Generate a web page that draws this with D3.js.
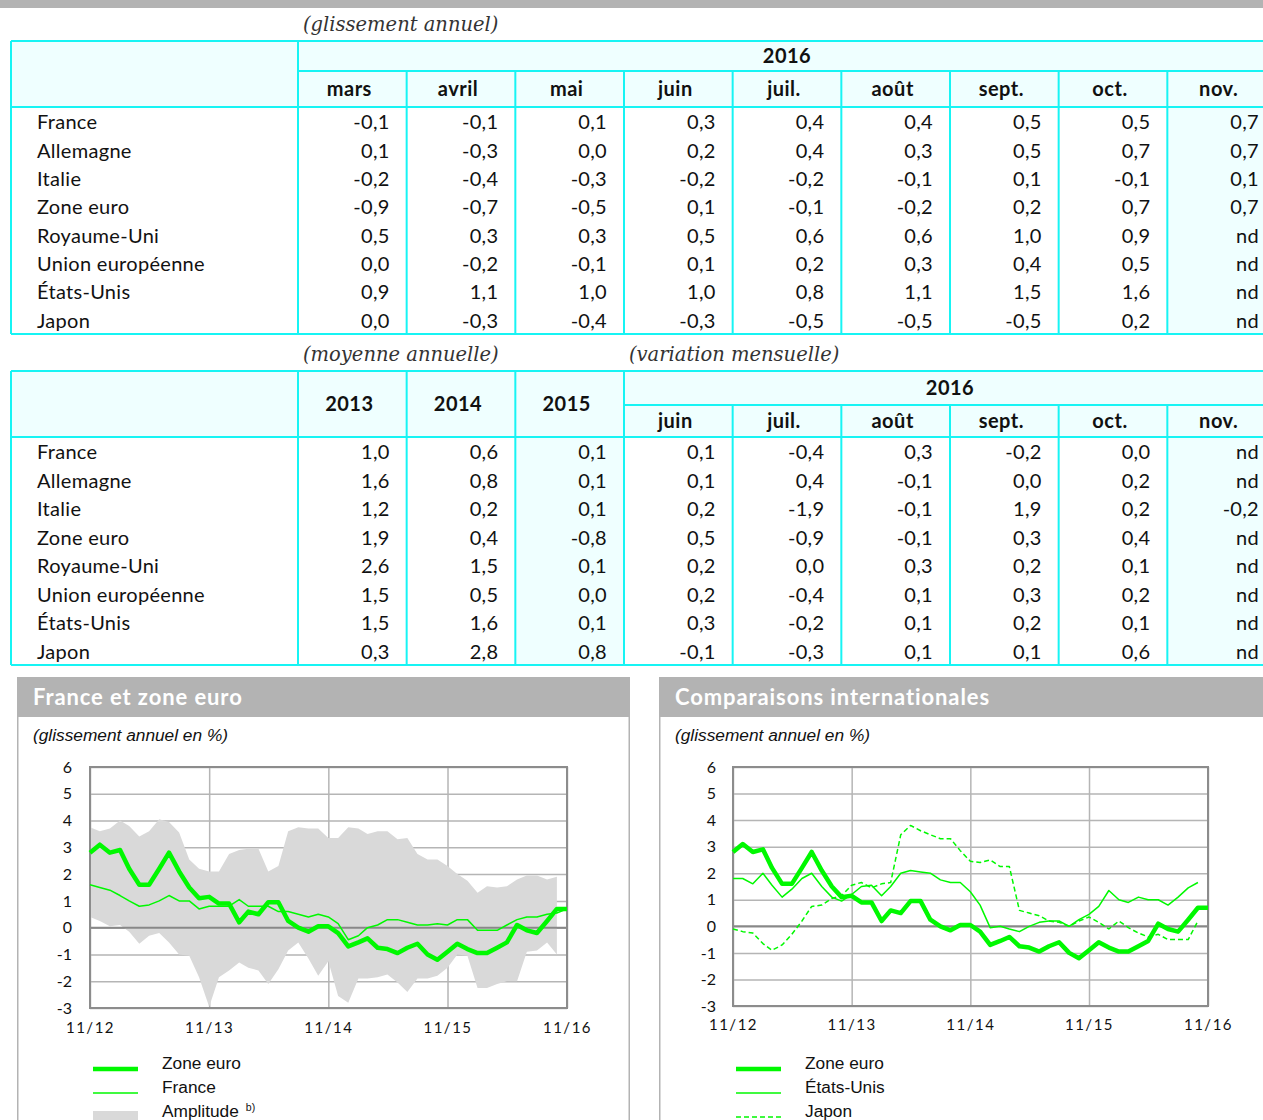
<!DOCTYPE html>
<html>
<head>
<meta charset="utf-8">
<script src="https://cdn.jsdelivr.net/npm/d3@7"></script>
<style>
  body { margin: 0; background: #fff; }
  svg { display: block; }
</style>
</head>
<body>
<svg id="page" width="1263" height="1120"></svg>
<script>
// ---- données des tableaux ----
const pays = ["France", "Allemagne", "Italie", "Zone euro", "Royaume-Uni",
              "Union européenne", "États-Unis", "Japon"];

const moisGlissement = ["mars", "avril", "mai", "juin", "juil.", "août", "sept.", "oct.", "nov."];
const glissement = [
  [-0.1, -0.1,  0.1,  0.3,  0.4,  0.4,  0.5,  0.5,  0.7],
  [ 0.1, -0.3,  0.0,  0.2,  0.4,  0.3,  0.5,  0.7,  0.7],
  [-0.2, -0.4, -0.3, -0.2, -0.2, -0.1,  0.1, -0.1,  0.1],
  [-0.9, -0.7, -0.5,  0.1, -0.1, -0.2,  0.2,  0.7,  0.7],
  [ 0.5,  0.3,  0.3,  0.5,  0.6,  0.6,  1.0,  0.9, null],
  [ 0.0, -0.2, -0.1,  0.1,  0.2,  0.3,  0.4,  0.5, null],
  [ 0.9,  1.1,  1.0,  1.0,  0.8,  1.1,  1.5,  1.6, null],
  [ 0.0, -0.3, -0.4, -0.3, -0.5, -0.5, -0.5,  0.2, null]
];

const annees = ["2013", "2014", "2015"];
const moyenne = [
  [1.0, 0.6,  0.1],
  [1.6, 0.8,  0.1],
  [1.2, 0.2,  0.1],
  [1.9, 0.4, -0.8],
  [2.6, 1.5,  0.1],
  [1.5, 0.5,  0.0],
  [1.5, 1.6,  0.1],
  [0.3, 2.8,  0.8]
];

const moisVariation = ["juin", "juil.", "août", "sept.", "oct.", "nov."];
const variation = [
  [ 0.1, -0.4,  0.3, -0.2,  0.0, null],
  [ 0.1,  0.4, -0.1,  0.0,  0.2, null],
  [ 0.2, -1.9, -0.1,  1.9,  0.2, -0.2],
  [ 0.5, -0.9, -0.1,  0.3,  0.4, null],
  [ 0.2,  0.0,  0.3,  0.2,  0.1, null],
  [ 0.2, -0.4,  0.1,  0.3,  0.2, null],
  [ 0.3, -0.2,  0.1,  0.2,  0.1, null],
  [-0.1, -0.3,  0.1,  0.1,  0.6, null]
];

// ---- données des graphiques (glissement annuel en %, nov. 2012 -> nov. 2016) ----
const mois = d3.timeMonth.range(new Date(2012, 10, 1), new Date(2016, 11, 1));
const ticksX = [new Date(2012, 10, 1), new Date(2013, 10, 1), new Date(2014, 10, 1),
                new Date(2015, 10, 1), new Date(2016, 10, 1)];

const zoneEuro = [2.8, 3.1, 2.8, 2.9, 2.2, 1.6, 1.6, 2.2, 2.8, 2.1, 1.5, 1.1, 1.15, 0.9, 0.9, 0.2,
                  0.6, 0.5, 0.95, 0.95, 0.25, 0.0, -0.15, 0.05, 0.05, -0.2, -0.7, -0.55, -0.4, -0.75,
                  -0.8, -0.95, -0.75, -0.6, -1.0, -1.2, -0.9, -0.6, -0.8, -0.95, -0.95, -0.75, -0.55,
                  0.1, -0.1, -0.2, 0.25, 0.7, 0.7];
const france = [1.6, 1.5, 1.4, 1.2, 1.0, 0.8, 0.85, 1.0, 1.2, 1.0, 1.0, 0.7, 0.8, 0.8, 0.8, 1.05,
                0.8, 0.8, 0.8, 0.6, 0.6, 0.5, 0.4, 0.5, 0.4, 0.15, -0.45, -0.3, 0.0, 0.1, 0.3, 0.3,
                0.2, 0.1, 0.1, 0.15, 0.1, 0.3, 0.3, -0.1, -0.1, -0.1, 0.1, 0.3, 0.4, 0.4, 0.5, 0.55, 0.7];
const ampHaut = [3.75, 3.6, 3.7, 4.0, 3.8, 3.4, 3.6, 4.05, 3.95, 3.55, 2.55, 2.2, 2.1, 2.1, 2.75, 2.9,
                 2.95, 2.95, 2.1, 2.3, 3.6, 3.75, 3.7, 3.7, 3.35, 3.35, 3.75, 3.7, 3.5, 3.6, 3.6, 3.3,
                 3.35, 2.75, 2.55, 2.55, 2.3, 2.0, 1.75, 1.3, 1.55, 1.5, 1.55, 1.8, 1.95, 1.95, 1.8, 1.9];
const ampBas = [0.4, 0.25, 0.05, 0.1, -0.15, -0.6, -0.3, -0.2, -0.55, -1.0, -1.05, -1.85, -2.95, -1.85,
                -1.6, -1.3, -1.5, -1.6, -2.1, -1.55, -0.85, -0.55, -1.15, -1.8, -1.25, -2.55, -2.8,
                -1.9, -1.9, -1.85, -1.75, -2.05, -2.4, -1.9, -1.9, -1.8, -1.5, -1.0, -1.05, -2.25,
                -2.25, -2.1, -2.0, -2.0, -0.9, -0.85, -0.55, -1.0];
const etatsUnis = [1.8, 1.8, 1.6, 2.0, 1.55, 1.1, 1.4, 1.8, 2.0, 1.5, 1.1, 0.95, 1.2, 1.5, 1.55, 1.15,
                   1.5, 2.0, 2.1, 2.05, 2.0, 1.75, 1.65, 1.65, 1.3, 0.8, -0.05, 0.0, -0.1, -0.2, 0.0,
                   0.15, 0.2, 0.2, 0.0, 0.25, 0.45, 0.75, 1.35, 1.0, 0.9, 1.1, 1.0, 1.0, 0.8, 1.1, 1.45, 1.65];
const japon = [-0.1, -0.2, -0.25, -0.65, -0.9, -0.7, -0.3, 0.2, 0.75, 0.8, 1.05, 1.15, 1.55, 1.65, 1.45,
               1.6, 1.65, 3.45, 3.8, 3.6, 3.45, 3.3, 3.3, 2.85, 2.45, 2.4, 2.5, 2.25, 2.25, 0.6, 0.5,
               0.4, 0.2, 0.15, 0.0, 0.2, 0.35, 0.15, -0.1, 0.2, -0.05, -0.25, -0.4, -0.3, -0.5, -0.5,
               -0.5, 0.2];

const cyan = "#17f4f4";
const fondCyan = "#efffff";
const vert = "#00f800";
const gris = "#b3b3b3";
const police = "Lato, 'Open Sans', sans-serif";
const arial = "'Liberation Sans', Arial, sans-serif";

const svg = d3.select("#page");
const fmt = v => v === null ? "nd" : v.toFixed(1).replace(".", ",");

// bandeau gris du haut
svg.append("rect").attr("x", 0).attr("y", 0).attr("width", 1263).attr("height", 8).attr("fill", gris);

function note(x, y, txt) {
  svg.append("text")
    .attr("x", x).attr("y", y).attr("dy", "0.35em")
    .attr("font-family", "'DejaVu Serif', serif")
    .attr("font-style", "italic")
    .attr("font-size", 19.5)
    .attr("fill", "#333")
    .text(txt);
}

function hline(x1, x2, y) {
  svg.append("line").attr("x1", x1).attr("x2", x2).attr("y1", y).attr("y2", y)
    .attr("stroke", cyan).attr("stroke-width", 2);
}
function vline(x, y1, y2) {
  svg.append("line").attr("x1", x).attr("x2", x).attr("y1", y1).attr("y2", y2)
    .attr("stroke", cyan).attr("stroke-width", 2);
}

function texte(x, y, txt, anchor, bold) {
  svg.append("text")
    .attr("x", x).attr("y", y).attr("dy", "0.35em")
    .attr("text-anchor", anchor)
    .attr("font-family", police)
    .attr("font-size", 20)
    .attr("font-weight", bold ? "bold" : "normal")
    .attr("letter-spacing", bold ? "0.5px" : "0.3px")
    .attr("fill", "#111")
    .text(txt);
}

// ---- tableau 1 : glissement annuel ----
note(303, 24, "(glissement annuel)");
{
  const top = 41, mid = 71, head = 107, bottom = 334, left = 11, right = 1276;
  const col = d3.scaleBand().domain(moisGlissement).range([298, right]);
  const row = d3.scaleBand().domain(pays).range([head, bottom]);

  svg.append("rect").attr("x", left).attr("y", top).attr("width", right - left).attr("height", head - top).attr("fill", fondCyan);
  svg.append("rect").attr("x", col("nov.")).attr("y", head).attr("width", col.bandwidth()).attr("height", bottom - head).attr("fill", fondCyan);

  hline(left, right, top);
  hline(298, right, mid);
  hline(left, right, head);
  hline(left, right, bottom);
  vline(left, top, bottom);
  vline(298, top, bottom);
  moisGlissement.slice(1).forEach(m => vline(col(m), mid, bottom));

  texte((298 + right) / 2, (top + mid) / 2, "2016", "middle", true);
  moisGlissement.forEach(m => texte(col(m) + col.bandwidth() / 2 - 3, (mid + head) / 2, m, "middle", true));

  pays.forEach((p, i) => {
    const yc = row(p) + row.bandwidth() / 2 + 1;
    texte(37, yc, p, "start", false);
    moisGlissement.forEach((m, j) => texte(col(m) + col.bandwidth() - 17, yc, fmt(glissement[i][j]), "end", false));
  });
}

// ---- tableau 2 : moyenne annuelle et variation mensuelle ----
note(303, 354, "(moyenne annuelle)");
note(629, 354, "(variation mensuelle)");
{
  const top = 371, mid = 405, head = 437, bottom = 665, left = 11, right = 1276;
  const colonnes = annees.concat(moisVariation);
  const col = d3.scaleBand().domain(colonnes).range([298, right]);
  const row = d3.scaleBand().domain(pays).range([head, bottom]);
  const debutMois = col(moisVariation[0]);

  svg.append("rect").attr("x", left).attr("y", top).attr("width", right - left).attr("height", head - top).attr("fill", fondCyan);
  ["2015", "nov."].forEach(c => {
    svg.append("rect").attr("x", col(c)).attr("y", head).attr("width", col.bandwidth()).attr("height", bottom - head).attr("fill", fondCyan);
  });

  hline(left, right, top);
  hline(debutMois, right, mid);
  hline(left, right, head);
  hline(left, right, bottom);
  vline(left, top, bottom);
  vline(298, top, bottom);
  annees.forEach(a => vline(col(a) + col.bandwidth(), top, bottom));
  moisVariation.slice(1).forEach(m => vline(col(m), mid, bottom));

  annees.forEach(a => texte(col(a) + col.bandwidth() / 2 - 3, (top + head) / 2, a, "middle", true));
  texte((debutMois + right) / 2, (top + mid) / 2, "2016", "middle", true);
  moisVariation.forEach(m => texte(col(m) + col.bandwidth() / 2 - 3, (mid + head) / 2, m, "middle", true));

  pays.forEach((p, i) => {
    const yc = row(p) + row.bandwidth() / 2 + 1;
    texte(37, yc, p, "start", false);
    const vals = moyenne[i].concat(variation[i]);
    colonnes.forEach((c, j) => texte(col(c) + col.bandwidth() - 17, yc, fmt(vals[j]), "end", false));
  });
}

// ---- panneaux graphiques ----
function panneau(x0, x1, titre) {
  svg.append("rect").attr("x", x0).attr("y", 677).attr("width", x1 - x0).attr("height", 40).attr("fill", gris);
  svg.append("text").attr("x", x0 + 16).attr("y", 697).attr("dy", "0.35em")
    .attr("font-family", police).attr("font-weight", "bold").attr("font-size", 22)
    .attr("letter-spacing", "0.9px")
    .attr("fill", "#fff").text(titre);
  svg.append("line").attr("x1", x0 + 0.75).attr("x2", x0 + 0.75).attr("y1", 717).attr("y2", 1120)
    .attr("stroke", gris).attr("stroke-width", 1.5);
  svg.append("line").attr("x1", x1 - 0.75).attr("x2", x1 - 0.75).attr("y1", 717).attr("y2", 1120)
    .attr("stroke", gris).attr("stroke-width", 1.5);
  svg.append("text").attr("x", x0 + 16).attr("y", 735).attr("dy", "0.35em")
    .attr("font-family", arial).attr("font-style", "italic")
    .attr("font-size", 17.3).attr("fill", "#111").text("(glissement annuel en %)");
}

function graphique(cfg) {
  const x = d3.scaleTime().domain([mois[0], mois[mois.length - 1]]).range([cfg.left, cfg.right]);
  const y = d3.scaleLinear().domain([-3, 6]).range([cfg.bottom, cfg.top]);
  const g = svg.append("g");

  // grille horizontale
  const ay = g.append("g").attr("transform", `translate(${cfg.left},0)`)
    .call(d3.axisLeft(y).tickValues(d3.range(-3, 7)).tickSize(-(cfg.right - cfg.left))
      .tickPadding(cfg.padY).tickFormat(d => String(d)));
  ay.select(".domain").remove();
  ay.selectAll("line").attr("stroke", "#b5b5b5").attr("stroke-width", 1.5);
  ay.selectAll("text").attr("font-family", police).attr("font-size", 16).attr("fill", "#111");

  // grille verticale
  const ax = g.append("g").attr("transform", `translate(0,${cfg.bottom})`)
    .call(d3.axisBottom(x).tickValues(ticksX).tickSize(-(cfg.bottom - cfg.top))
      .tickPadding(cfg.padX).tickFormat(d3.timeFormat("%m/%y")));
  ax.select(".domain").remove();
  ax.selectAll("line").attr("stroke", "#b5b5b5").attr("stroke-width", 1.5);
  ax.selectAll("text").attr("font-family", police).attr("font-size", 15)
    .attr("letter-spacing", "1.5px").attr("fill", "#111");

  // bande d'amplitude
  if (cfg.bande) {
    g.append("path").datum(ampHaut)
      .attr("fill", "#d9d9d9")
      .attr("d", d3.area().x((d, i) => x(mois[i])).y0((d, i) => y(ampBas[i])).y1(d => y(d)));
  }

  // axe zéro et cadre
  g.append("line").attr("x1", cfg.left).attr("x2", cfg.right).attr("y1", y(0)).attr("y2", y(0))
    .attr("stroke", "#888").attr("stroke-width", 2);
  g.append("rect").attr("x", cfg.left).attr("y", cfg.top)
    .attr("width", cfg.right - cfg.left).attr("height", cfg.bottom - cfg.top)
    .attr("fill", "none").attr("stroke", "#8c8c8c").attr("stroke-width", 2);

  const ligne = d3.line().x((d, i) => x(mois[i])).y(d => y(d));
  cfg.series.forEach(s => {
    g.append("path").datum(s.valeurs)
      .attr("fill", "none").attr("stroke", vert)
      .attr("stroke-width", s.epais ? 4.5 : 1.5)
      .attr("stroke-dasharray", s.tirets ? "5,3" : null)
      .attr("stroke-linejoin", "round")
      .attr("d", ligne);
  });

  // légende
  const lx = cfg.left + 3;
  cfg.legende.forEach((s, i) => {
    const yl = 1069 + i * 24;
    if (s.bande) {
      g.append("rect").attr("x", lx).attr("y", yl - 6).attr("width", 45).attr("height", 20).attr("fill", "#d9d9d9");
    } else {
      g.append("line").attr("x1", lx).attr("x2", lx + 45).attr("y1", yl).attr("y2", yl)
        .attr("stroke", vert).attr("stroke-width", s.epais ? 4.5 : 1.5)
        .attr("stroke-dasharray", s.tirets ? "5,3" : null);
    }
    const t = g.append("text").attr("x", lx + 69).attr("y", yl - 6).attr("dy", "0.35em")
      .attr("font-family", arial).attr("font-size", 17.3)
      .attr("fill", "#111").text(s.nom);
    if (s.note) {
      t.append("tspan").attr("dx", 7).attr("dy", "-0.6em").attr("font-size", 10.5).text(s.note);
    }
  });
}

panneau(17, 630, "France et zone euro");
graphique({
  left: 90, right: 567, top: 767, bottom: 1008, padY: 18, padX: 14, bande: true,
  series: [{ valeurs: france }, { valeurs: zoneEuro, epais: true }],
  legende: [{ nom: "Zone euro", epais: true }, { nom: "France" }, { nom: "Amplitude", bande: true, note: "b)" }]
});

panneau(659, 1290, "Comparaisons internationales");
graphique({
  left: 733, right: 1208, top: 767, bottom: 1006, padY: 17, padX: 13, bande: false,
  series: [{ valeurs: japon, tirets: true }, { valeurs: etatsUnis }, { valeurs: zoneEuro, epais: true }],
  legende: [{ nom: "Zone euro", epais: true }, { nom: "États-Unis" }, { nom: "Japon", tirets: true }]
});
</script>
</body>
</html>
